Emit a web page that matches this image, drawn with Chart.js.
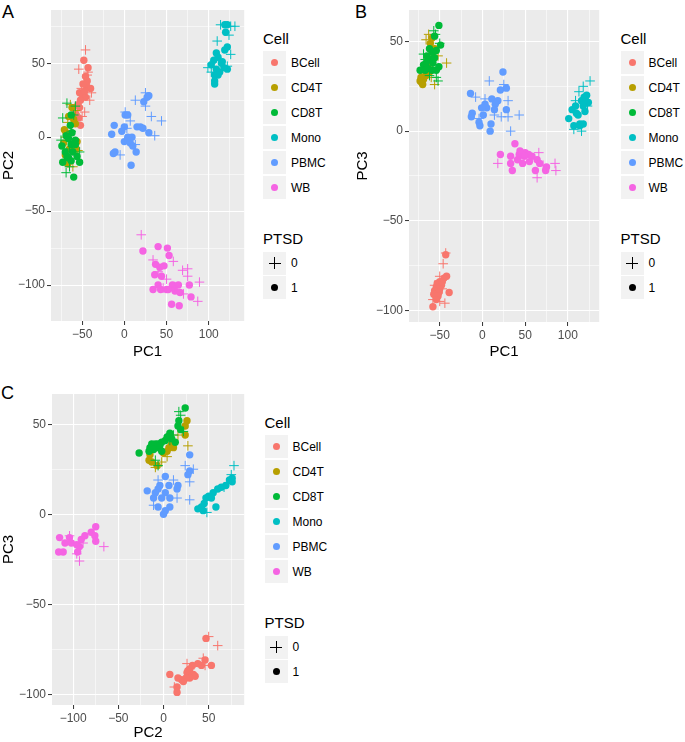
<!DOCTYPE html>
<html>
<head>
<meta charset="utf-8">
<script src="https://cdn.jsdelivr.net/npm/chart.js@4.4.0/dist/chart.umd.min.js"></script>
<style>
  html, body { margin: 0; padding: 0; }
  body { width: 685px; height: 742px; background: #fff; position: relative; overflow: hidden;
         font-family: "Liberation Sans", Arial, Helvetica, sans-serif; }
  canvas { position: absolute; }
  .plab { position: absolute; font-size: 18px; color: #000; line-height: 18px; }
  .lt { position: absolute; font-size: 15px; color: #000; line-height: 16px; height: 16px; white-space: nowrap; }
  .lk { position: absolute; width: 23px; height: 23px; background: #F2F2F2; }
  .ll { position: absolute; font-size: 12px; color: #000; line-height: 14px; height: 14px; white-space: nowrap; }
  .dot { position: absolute; border-radius: 50%; }
  .bar { position: absolute; background: #000; }
</style>
</head>
<body>
<div class="plab" style="left:2px;top:3px;">A</div>
<div class="plab" style="left:355px;top:3px;">B</div>
<div class="plab" style="left:1px;top:384px;">C</div>
<canvas id="cA" width="250" height="370" style="left:0px;top:0px;"></canvas>
<canvas id="cB" width="260" height="370" style="left:345px;top:0px;"></canvas>
<canvas id="cC" width="250" height="362" style="left:0px;top:380px;"></canvas>
<div id="legends"></div>
<script>
// ---------------- data ----------------
const cells = ['BCell', 'CD4T', 'CD8T', 'Mono', 'PBMC', 'WB'];
const cellColors = ['#F8766D', '#B79F00', '#00BA38', '#00BFC4', '#619CFF', '#F564E3'];
const ptsdLevels = ['0', '1'];

// Panel A: PC1 (x) vs PC2 (y); suffix _0 = PTSD 0 (plus), _1 = PTSD 1 (dot)
const A_BCell_0 = [[-46,59],[-54,46],[-43,44],[-44,42],[-41,25],[-47,17],[-50,14],[-51,33],[-39,30]];
const A_BCell_1 = [[-48,52],[-43,47],[-46,41],[-45,35],[-40,33],[-53,30],[-50,29],[-46,27],[-52,25],[-55,22],[-53,20],[-58,16],[-54,13],[-57,15],[-52,8],[-47,31],[-44,38],[-49,36]];
const A_CD4T_0 = [[-64,22],[-58,18],[-55,-9],[-67,10],[-61,-20],[-70,0]];
const A_CD4T_1 = [[-70,-12],[-69,3],[-61,-5],[-57,-8],[-71,5],[-67,-18],[-60,12],[-56,-3],[-62,20],[-65,-8],[-58,9],[-72,-4],[-66,14]];
const A_CD8T_0 = [[-68,23],[-73,13],[-60,15],[-65,-8],[-53,-10],[-65,-20],[-69,-24],[-58,21],[-63,4],[-75,-2]];
const A_CD8T_1 = [[-74,-6],[-70,-10],[-66,-14],[-63,-5],[-63,-16],[-53,-17],[-58,-2],[-62,3],[-64,8],[-61,-10],[-68,-13],[-58,-5],[-73,-17],[-60,-27],[-66,-1],[-63,15],[-56,-13],[-69,1]];
const A_Mono_0 = [[114,76],[126,75],[131,75],[110,65],[124,69],[126,56],[99,47],[122,48],[103,44]];
const A_Mono_1 = [[119,76],[122,76],[120,71],[122,61],[119,59],[109,57],[111,54],[106,52],[103,49],[115,50],[109,46],[113,44],[122,46],[107,42],[111,42],[107,38],[107,36],[118,47],[116,51]];
const A_PBMC_0 = [[1,17],[7,11],[13,25],[25,30],[25,21],[32,14],[44,11],[36,1],[-5,-12],[13,-5],[3,6]];
const A_PBMC_1 = [[-12,8],[-15,2],[-3,4],[0,7],[1,15],[4,15],[-11,-10],[-13,-11],[0,-3],[9,0],[7,-4],[10,-6],[15,7],[19,7],[22,6],[23,24],[29,28],[27,27],[8,-19],[14,-10],[29,3],[4,0]];
const A_WB_0 = [[20,-66],[34,-83],[58,-84],[69,-90],[75,-89],[75,-94],[89,-98],[87,-111],[70,-106],[40,-91],[50,-96],[46,-102],[60,-101]];
const A_WB_1 = [[22,-77],[40,-74],[51,-75],[53,-80],[37,-86],[42,-88],[47,-87],[36,-93],[44,-94],[34,-103],[40,-100],[43,-103],[50,-103],[57,-100],[60,-104],[66,-105],[64,-100],[77,-100],[79,-108],[56,-113],[65,-114],[58,-102],[52,-103]];

// Panel B: PC1 (x) vs PC3 (y)
const B_BCell_0 = [[-43,-68],[-46,-74],[-50,-81],[-56,-86],[-50,-95],[-44,-96],[-58,-94],[-47,-88]];
const B_BCell_1 = [[-43,-69],[-42,-81],[-45,-82],[-50,-84],[-48,-86],[-54,-87],[-50,-88],[-56,-89],[-39,-90],[-51,-90],[-57,-91],[-52,-92],[-54,-94],[-58,-98],[-53,-85],[-47,-84]];
const B_CD4T_0 = [[-66,51],[-63,54],[-42,38],[-56,26],[-68,32],[-52,42],[-60,30]];
const B_CD4T_1 = [[-72,30],[-71,27],[-73,28],[-69,29],[-66,31],[-62,33],[-59,52],[-61,49],[-58,44],[-64,37],[-60,38],[-56,46],[-70,26]];
const B_CD8T_0 = [[-57,56],[-55,54],[-69,43],[-54,30],[-52,28],[-62,31],[-50,49],[-67,40],[-58,35]];
const B_CD8T_1 = [[-51,59],[-56,53],[-49,48],[-59,44],[-54,45],[-65,42],[-61,40],[-56,41],[-69,37],[-67,34],[-73,34],[-64,35],[-59,34],[-54,34],[-51,36],[-58,38],[-62,46],[-66,38]];
const B_Mono_0 = [[126,28],[118,25],[109,17],[107,1],[116,0],[123,14],[113,22]];
const B_Mono_1 = [[119,19],[116,17],[121,17],[124,16],[118,14],[120,11],[114,4],[105,12],[101,7],[109,14],[112,9],[114,3],[107,3],[118,4],[110,10],[122,20]];
const B_PBMC_0 = [[8,28],[25,26],[-8,19],[3,18],[30,17],[14,9],[22,8],[30,8],[43,9],[33,0],[-4,7]];
const B_PBMC_1 = [[24,33],[28,24],[21,23],[-14,21],[11,18],[18,17],[15,15],[3,15],[5,13],[-1,13],[28,12],[-12,10],[-13,8],[1,9],[-4,5],[-3,3],[10,4],[9,0],[14,12]];
const B_WB_0 = [[18,-18],[66,-12],[85,-18],[71,-19],[64,-26],[86,-22],[45,-15]];
const B_WB_1 = [[38,-7],[21,-13],[33,-14],[43,-13],[50,-12],[54,-13],[49,-14],[58,-14],[64,-16],[41,-16],[33,-18],[47,-18],[67,-18],[75,-20],[35,-22],[62,-22],[74,-22],[55,-17],[44,-11]];

// Panel C: PC2 (x) vs PC3 (y)
const C_BCell_0 = [[50,-68],[60,-73],[44,-80],[46,-84],[26,-83],[29,-86],[12,-96]];
const C_BCell_1 = [[47,-69],[53,-84],[46,-81],[42,-84],[38,-83],[32,-84],[29,-86],[27,-87],[26,-88],[33,-89],[35,-90],[29,-91],[25,-91],[20,-92],[22,-93],[16,-91],[7,-89],[15,-96],[15,-99]];
const C_CD4T_0 = [[27,38],[16,44],[-9,26],[-2,29],[4,32],[22,48]];
const C_CD4T_1 = [[26,52],[24,49],[24,44],[9,39],[11,37],[4,35],[0,34],[-16,30],[-13,29],[-7,27],[-15,33],[6,37]];
const C_CD8T_0 = [[17,57],[7,41],[-9,30],[11,44],[22,46],[-6,27],[19,55]];
const C_CD8T_1 = [[24,59],[17,52],[16,49],[7,45],[4,43],[2,41],[-2,40],[-6,39],[-9,39],[-13,39],[-15,37],[-11,36],[-7,37],[-4,38],[-27,34],[-16,35],[-2,35],[13,40],[19,47],[9,42]];
const C_Mono_0 = [[78,27],[48,1],[67,15],[75,22]];
const C_Mono_1 = [[38,3],[42,4],[45,6],[47,9],[50,10],[55,12],[60,14],[53,9],[58,4],[64,15],[69,16],[73,19],[76,20],[76,18],[44,2]];
const C_PBMC_0 = [[-6,19],[24,27],[33,25],[11,19],[29,18],[15,9],[29,8],[-11,5]];
const C_PBMC_1 = [[29,33],[29,24],[27,22],[2,21],[-18,13],[-6,14],[-4,16],[6,16],[2,12],[-9,12],[-11,9],[-2,9],[7,9],[15,14],[16,16],[7,4],[0,0],[2,2],[-6,4]];
const C_WB_0 = [[-104,-12],[-89,-16],[-66,-18],[-93,-26],[-96,-22]];
const C_WB_1 = [[-75,-7],[-80,-10],[-76,-12],[-75,-15],[-87,-12],[-91,-14],[-104,-13],[-115,-13],[-109,-16],[-102,-16],[-96,-17],[-93,-18],[-116,-21],[-111,-21],[-95,-21]];

// tick values (multiples of 50 are labelled, others are minor grid lines)
const A_xTicks = [-75, -50, -25, 0, 25, 50, 75, 100, 125];
const A_yTicks = [-100, -75, -50, -25, 0, 25, 50, 75];
const B_xTicks = [-75, -50, -25, 0, 25, 50, 75, 100, 125];
const B_yTicks = [-100, -75, -50, -25, 0, 25, 50];
const C_xTicks = [-100, -75, -50, -25, 0, 25, 50, 75];
const C_yTicks = [-100, -75, -50, -25, 0, 25, 50];

const panelA = [[A_BCell_0, A_BCell_1], [A_CD4T_0, A_CD4T_1], [A_CD8T_0, A_CD8T_1], [A_Mono_0, A_Mono_1], [A_PBMC_0, A_PBMC_1], [A_WB_0, A_WB_1]];
const panelB = [[B_BCell_0, B_BCell_1], [B_CD4T_0, B_CD4T_1], [B_CD8T_0, B_CD8T_1], [B_Mono_0, B_Mono_1], [B_PBMC_0, B_PBMC_1], [B_WB_0, B_WB_1]];
const panelC = [[C_BCell_0, C_BCell_1], [C_CD4T_0, C_CD4T_1], [C_CD8T_0, C_CD8T_1], [C_Mono_0, C_Mono_1], [C_PBMC_0, C_PBMC_1], [C_WB_0, C_WB_1]];

// ---------------- drawing ----------------
const FONT = '"Liberation Sans", Arial, Helvetica, sans-serif';
const isMajor = v => Math.abs(v % 50) < 1e-9;
const fmt = v => (v < 0 ? '\u2212' + Math.abs(v) : String(v));

const panelBg = {
  id: 'panelBg',
  beforeDraw(chart) {
    const a = chart.chartArea, ctx = chart.ctx;
    ctx.save();
    ctx.fillStyle = '#EBEBEB';
    ctx.fillRect(a.left, a.top, a.right - a.left, a.bottom - a.top);
    ctx.restore();
  }
};

function buildDatasets(panel) {
  const list = [];
  panel.forEach((pair, ci) => {
    const col = cellColors[ci];
    // dots (PTSD 1) first, plus (PTSD 0) drawn over them
    list.push({
      label: cells[ci] + ' ' + ptsdLevels[1],
      data: pair[1].map(p => ({ x: p[0], y: p[1] })),
      pointStyle: 'circle', pointRadius: 3.7, backgroundColor: col, borderColor: col, borderWidth: 0
    });
    list.push({
      label: cells[ci] + ' ' + ptsdLevels[0],
      data: pair[0].map(p => ({ x: p[0], y: p[1] })),
      pointStyle: 'cross', pointRadius: 4.8, backgroundColor: col, borderColor: col, borderWidth: 1
    });
  });
  return list.reverse(); // Chart.js draws index 0 last (on top)
}

function axis(ticksArr, min, max, title, fitSize, horizontal, titlePad) {
  return {
    type: 'linear', min: min, max: max, bounds: 'data', offset: false,
    afterBuildTicks: s => { s.ticks = ticksArr.map(v => ({ value: v })); },
    afterFit: s => { if (horizontal) s.height = fitSize; else s.width = fitSize; },
    border: { display: false },
    grid: {
      color: '#FFFFFF',
      lineWidth: c => (c.tick && isMajor(c.tick.value) ? 1.1 : 0.55),
      tickColor: c => (c.tick && isMajor(c.tick.value) ? '#333333' : 'rgba(0,0,0,0)'),
      tickLength: 4, drawTicks: true, tickWidth: 1
    },
    ticks: {
      autoSkip: false, maxRotation: 0, minRotation: 0, padding: 2,
      color: '#4D4D4D', font: { size: 12, family: FONT },
      callback: v => (isMajor(v) ? fmt(v) : '')
    },
    title: {
      display: true, text: title, color: '#000', font: { size: 15, family: FONT },
      padding: titlePad
    }
  };
}

function makeChart(id, panel, cfg) {
  new Chart(document.getElementById(id), {
    type: 'scatter',
    data: { datasets: buildDatasets(panel) },
    options: {
      responsive: false, animation: false, devicePixelRatio: 1, events: [],
      layout: { padding: cfg.padding },
      plugins: { legend: { display: false }, tooltip: { enabled: false } },
      scales: {
        x: axis(cfg.xTicks, cfg.xMin, cfg.xMax, cfg.xTitle, cfg.xH, true, { top: 0, bottom: cfg.xTitlePad }),
        y: axis(cfg.yTicks, cfg.yMin, cfg.yMax, cfg.yTitle, cfg.yW, false, { top: cfg.yTitlePad, bottom: 0 })
      }
    },
    plugins: [panelBg]
  });
}

makeChart('cA', panelA, {
  xTicks: A_xTicks, yTicks: A_yTicks, xMin: -86.9, xMax: 142, yMin: -124.3, yMax: 86,
  xTitle: 'PC1', yTitle: 'PC2', padding: { left: 0, top: 10, right: 2, bottom: 0 },
  xH: 49, yW: 51, xTitlePad: 9, yTitlePad: 0
});
makeChart('cB', panelB, {
  xTicks: B_xTicks, yTicks: B_yTicks, xMin: -86, xMax: 136.7, yMin: -106.5, yMax: 67.6,
  xTitle: 'PC1', yTitle: 'PC3', padding: { left: 0, top: 10, right: 2, bottom: 0 },
  xH: 48, yW: 64, xTitlePad: 9, yTitlePad: 9
});
makeChart('cC', panelC, {
  xTicks: C_xTicks, yTicks: C_yTicks, xMin: -123.4, xMax: 89.3, yMin: -106, yMax: 66.8,
  xTitle: 'PC2', yTitle: 'PC3', padding: { left: 0, top: 14, right: 2, bottom: 0 },
  xH: 37, yW: 52, xTitlePad: 0, yTitlePad: 0
});

// ---------------- legends (HTML) ----------------
function el(cls, css, text) {
  const d = document.createElement('div');
  d.className = cls;
  Object.assign(d.style, css);
  if (text !== undefined) d.textContent = text;
  document.getElementById('legends').appendChild(d);
  return d;
}
function legend(left, titleY) {
  el('lt', { left: left + 'px', top: (titleY - 8) + 'px' }, 'Cell');
  cells.forEach((c, i) => {
    const cy = titleY + 23.7 + 25 * i;
    el('lk', { left: left + 'px', top: (cy - 11.5) + 'px' });
    el('dot', { left: (left + 11.5 - 3.5) + 'px', top: (cy - 3.5) + 'px', width: '7px', height: '7px', background: cellColors[i] });
    el('ll', { left: (left + 28) + 'px', top: (cy - 7) + 'px' }, c);
  });
  el('lt', { left: left + 'px', top: (titleY + 199.7 - 8) + 'px' }, 'PTSD');
  ptsdLevels.forEach((p, i) => {
    const cy = titleY + 224.3 + 24.4 * i;
    el('lk', { left: left + 'px', top: (cy - 11.5) + 'px' });
    if (p === '0') {
      el('bar', { left: (left + 11.5 - 6) + 'px', top: (cy - 0.5) + 'px', width: '12px', height: '1px' });
      el('bar', { left: (left + 11.5 - 0.5) + 'px', top: (cy - 6) + 'px', width: '1px', height: '12px' });
    } else {
      el('dot', { left: (left + 11.5 - 3.5) + 'px', top: (cy - 3.5) + 'px', width: '7px', height: '7px', background: '#000' });
    }
    el('ll', { left: (left + 28) + 'px', top: (cy - 7) + 'px' }, p);
  });
}
legend(263, 39);
legend(620.5, 39);
legend(264.5, 423);
</script>
</body>
</html>
